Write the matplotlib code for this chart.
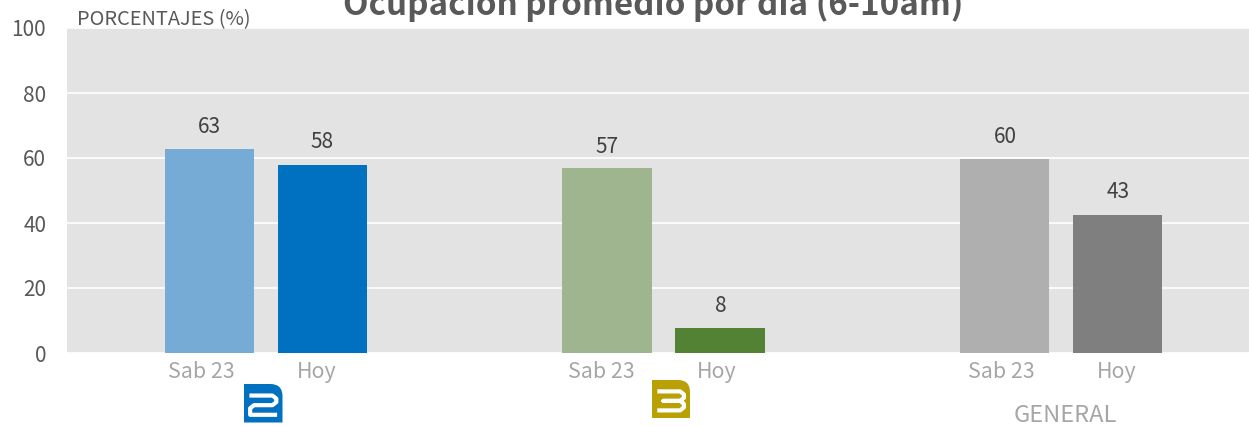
import matplotlib
matplotlib.use("Agg")
import numpy as np
import matplotlib.pyplot as plt
from matplotlib.path import Path
from matplotlib.patches import PathPatch
from matplotlib.transforms import Affine2D

plt.rcParams['font.family'] = ['Noto Sans CJK JP', 'DejaVu Sans']

W = 1249
H = 426

groups = [0, 1, 2]
sab_values = [62.8, 56.8, 59.8]
hoy_values = [58.0, 7.6, 42.6]
sab_labels = ["63", "57", "60"]
hoy_labels = ["58", "8", "43"]
sab_colors = ["#76abd6", "#9fb58f", "#afafaf"]
hoy_colors = ["#0070c0", "#548235", "#7f7f7f"]
y_ticks = [0, 20, 40, 60, 80, 100]


def draw_logo(fig, x0, y0, size, color, stroke):
	# logo: square with rounded top right corner, digit drawn as a white stroke
	r = size * 0.32
	verts = [(0, 0), (size - r, 0), (size, 0), (size, r), (size, size), (0, size), (0, 0)]
	codes = [Path.MOVETO, Path.LINETO, Path.CURVE3, Path.CURVE3, Path.LINETO, Path.LINETO, Path.CLOSEPOLY]
	# pixel coordinates, y going down
	to_fig = Affine2D().translate(x0, y0).scale(1 / W, -1 / H).translate(0, 1) + fig.transFigure
	fig.add_artist(PathPatch(Path(verts, codes), transform=to_fig, fc=color, ec="none"))
	xs = [p[0] * size for p in stroke]
	ys = [p[1] * size for p in stroke]
	fig.add_artist(plt.Line2D(xs, ys, transform=to_fig, color="white", lw=3.0,
		solid_joinstyle="round", solid_capstyle="butt"))


def main():
	fig = plt.figure(figsize=(W / 100, H / 100), dpi=100)
	ax = fig.add_axes([67 / W, 1 - 353 / H, (W - 67) / W, 325 / H])
	ax.set_facecolor("#e3e3e3")

	x = np.array(groups)
	bar_w = 0.225
	off = 0.142
	ax.bar(x * 0.999 - off, sab_values, bar_w, color=sab_colors, zorder=3)
	ax.bar(x * 0.999 + off, hoy_values, bar_w, color=hoy_colors, zorder=3)

	for i in groups:
		ax.text(x[i] - off, sab_values[i] + 3.3, sab_labels[i], ha="center", va="bottom",
			fontsize=15, color="#404040", zorder=4)
		ax.text(x[i] + off, hoy_values[i] + 3.4, hoy_labels[i], ha="center", va="bottom",
			fontsize=15, color="#404040", zorder=4)

	ax.set_xlim(-0.5, 2.47)
	ax.set_ylim(0, 100)
	ax.set_yticks(y_ticks)
	ax.tick_params(axis="y", length=0, labelsize=15, labelcolor="#595959", pad=15)
	tick_x = x * 1.005
	ax.set_xticks(list(tick_x - 0.163) + list(tick_x + 0.128))
	ax.set_xticklabels(["Sab 23"] * 3 + ["Hoy"] * 3)
	ax.tick_params(axis="x", length=0, labelsize=15.4, labelcolor="#a6a6a6", pad=6)
	ax.grid(axis="y", color="white", lw=1.2, zorder=1)
	ax.set_axisbelow(True)
	for s in ax.spines.values():
		s.set_visible(False)

	fig.text(77 / W, 1 - 20 / H, "PORCENTAJES (%)", fontsize=14.4, color="#595959",
		ha="left", va="center")
	fig.text(653 / W, 1 - 3 / H, "Ocupación promedio por día (6-10am)", fontsize=23.9,
		fontweight="bold", color="#595959", ha="center", va="center")
	fig.text(1065 / W, 1 - 416 / H, "GENERAL", fontsize=17, color="#a6a6a6",
		ha="center", va="center")

	two = [(0.14, 0.3), (0.74, 0.3), (0.84, 0.38), (0.84, 0.47), (0.74, 0.55), (0.26, 0.55), (0.16, 0.63), (0.16, 0.8), (0.86, 0.8)]
	three = [(0.14, 0.3), (0.74, 0.3), (0.84, 0.38), (0.84, 0.47), (0.74, 0.55), (0.3, 0.55), (0.74, 0.55), (0.84, 0.63), (0.84, 0.72), (0.74, 0.8), (0.14, 0.8)]
	draw_logo(fig, 244, 384, 38.5, "#0070c0", two)
	draw_logo(fig, 652, 380, 38, "#b8a005", three)

	fig.savefig("out.png", dpi=100)


if __name__ == "__main__":
	main()
